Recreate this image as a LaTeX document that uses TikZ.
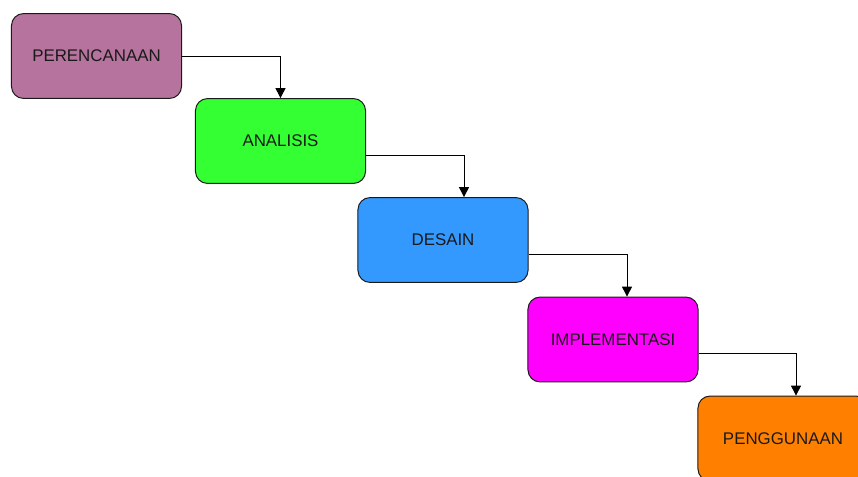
\documentclass[tikz,border=0pt]{standalone}
\usepackage{fontspec}
\setmainfont{Liberation Sans}
\usetikzlibrary{arrows.meta}

\definecolor{ungu}{HTML}{B5739D}
\definecolor{hijau}{HTML}{33FF33}
\definecolor{biru}{HTML}{3399FF}
\definecolor{magenta}{HTML}{FF00FF}
\definecolor{oranye}{HTML}{FF8000}
\definecolor{garis}{HTML}{1A1A1A}

\begin{document}
\begin{tikzpicture}[x=0.025cm,y=-0.025cm,>={Triangle[length=0.25cm,width=0.25cm]},
	tahap/.style={draw=garis,line width=0.7pt,rounded corners=0.3cm,
		minimum width=4.25cm,minimum height=2.12cm,inner sep=0pt,
		font=\fontsize{12pt}{14pt}\selectfont,text=garis},
	panah/.style={->,line width=0.7pt,draw=black}]
\useasboundingbox (0,0) rectangle (858,476);

\node[tahap,fill=ungu] (plan) at (96.5,56) {PERENCANAAN};
\node[tahap,fill=hijau] (analisis) at (280.5,141) {ANALISIS};
\node[tahap,fill=biru] (desain) at (443,240) {DESAIN};
\node[tahap,fill=magenta] (impl) at (613,339.5) {IMPLEMENTASI};
\node[tahap,fill=oranye] (guna) at (783,438.5) {PENGGUNAAN};

% alur waterfall
\draw[panah] (plan.east) -| (analisis.north);
\draw[panah] ([yshift=-0.35cm]analisis.east) -| ([xshift=0.525cm]desain.north);
\draw[panah] ([yshift=-0.35cm]desain.east) -| ([xshift=0.35cm]impl.north);
\draw[panah] ([yshift=-0.35cm]impl.east) -| ([xshift=0.325cm]guna.north);
\end{tikzpicture}
\end{document}
